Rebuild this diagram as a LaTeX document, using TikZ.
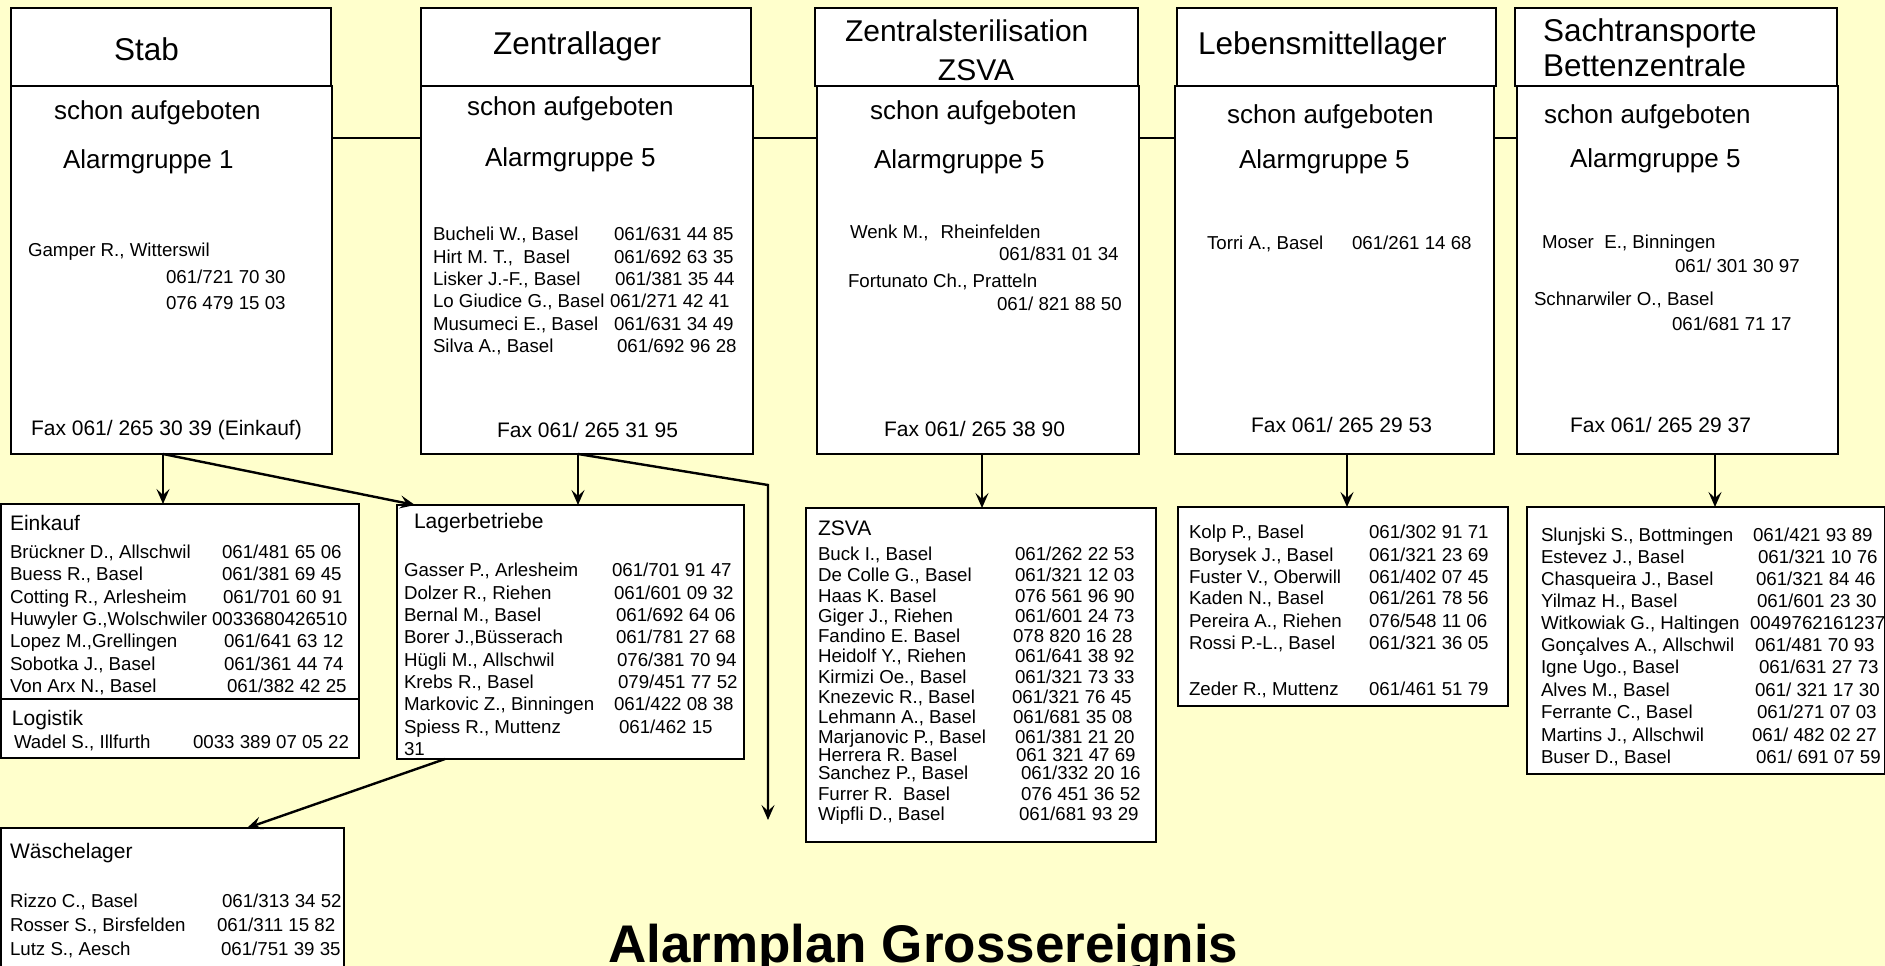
\documentclass[tikz,border=0pt]{standalone}
\usepackage{fontspec}
\setmainfont{Liberation Sans}
\usetikzlibrary{arrows.meta}
\definecolor{bgyellow}{HTML}{FFFFCC}
\newcommand\lrow[6]{\node[sm] (#1n) at (#2,#3) {#4}; \node[sm] (#1p) at (#5,#3) {#6};}
\begin{document}
\begin{tikzpicture}[x=1pt,y=-1pt,
  box/.style={draw=black, fill=white, line width=2.6pt, inner sep=0pt, outer sep=0pt, anchor=north west},
  t/.style={anchor=base west, inner sep=0pt, outer sep=0pt},
  hdr/.style={t, font=\fontsize{31.5}{36}\selectfont},
  big/.style={t, font=\fontsize{26}{30}\selectfont},
  mid/.style={t, font=\fontsize{21}{25}\selectfont},
  sm/.style={t, font=\fontsize{18.7}{22}\selectfont},
  link/.style={line width=1.4pt},
  arr/.style={line width=2.4pt, -{Stealth[length=15pt,width=13pt,inset=6pt]}},
]
\useasboundingbox[fill=bgyellow] (0,0) rectangle (1885,966);

% upper boxes
\node[box, minimum width=321pt, minimum height=368pt] (stabB) at (11,86) {};
\node[box, minimum width=320pt, minimum height=78pt] (stabH) at (11,8) {};
\node[box, minimum width=332pt, minimum height=368pt] (zlB) at (421,86) {};
\node[box, minimum width=330pt, minimum height=78pt] (zlH) at (421,8) {};
\node[box, minimum width=322pt, minimum height=368pt] (zsB) at (817,86) {};
\node[box, minimum width=323pt, minimum height=78pt] (zsH) at (815,8) {};
\node[box, minimum width=319pt, minimum height=368pt] (lmB) at (1175,86) {};
\node[box, minimum width=319pt, minimum height=78pt] (lmH) at (1177,8) {};
\node[box, minimum width=321pt, minimum height=368pt] (stB) at (1517,86) {};
\node[box, minimum width=322pt, minimum height=78pt] (stH) at (1515,8) {};

% lower boxes
\node[box, minimum width=358pt, minimum height=195pt] (einkauf) at (1,504) {};
\node[box, minimum width=358pt, minimum height=59pt] (logistik) at (1,699) {};
\node[box, minimum width=343pt, minimum height=160pt] (waesche) at (1,828) {};
\node[box, minimum width=347pt, minimum height=254pt] (lager) at (397,505) {};
\node[box, minimum width=350pt, minimum height=334pt] (zsva) at (806,508) {};
\node[box, minimum width=330pt, minimum height=199pt] (lml) at (1178,507) {};
\node[box, minimum width=358pt, minimum height=267pt] (stl) at (1527,507) {};

% horizontal links
\draw[link] ([yshift=-52pt]stabB.north east) -- ([yshift=-52pt]zlB.north west);
\draw[link] ([yshift=-52pt]zlB.north east) -- ([yshift=-52pt]zsB.north west);
\draw[link] ([yshift=-52pt]zsB.north east) -- ([yshift=-52pt]lmB.north west);
\draw[link] ([yshift=-52pt]lmB.north east) -- ([yshift=-52pt]stB.north west);

% arrows
\coordinate (s1) at ([xshift=152pt]stabB.south west);
\coordinate (z1) at ([xshift=157pt]zlB.south west);
\coordinate (zbend) at (768,485);
\coordinate (zend) at (768,820);
\coordinate (c1) at ([xshift=165pt]zsB.south west);
\coordinate (l1) at ([xshift=172pt]lmB.south west);
\coordinate (t1) at ([xshift=198pt]stB.south west);
\draw[arr] (s1) -- (s1 |- einkauf.north);
\draw[arr] (s1) -- ([xshift=18pt]lager.north west);
\draw[arr] (z1) -- (z1 |- lager.north);
\draw[arr] (z1) -- (zbend) -- (zend);
\draw[arr] ([xshift=48pt]lager.south west) -- ([xshift=246pt]waesche.north west);
\draw[arr] (c1) -- (c1 |- zsva.north);
\draw[arr] (l1) -- (l1 |- lml.north);
\draw[arr] (t1) -- (t1 |- stl.north);

% headers
\node[hdr] (hStab) at (114,60) {Stab};
\node[hdr] (hZl) at (493,55) {Zentrallager};
\node[t, font=\fontsize{30}{34}\selectfont] (hZs1) at (845,42) {Zentralsterilisation};
\node[t, anchor=base, font=\fontsize{30}{34}\selectfont] (hZs2) at (976,81) {ZSVA};
\node[hdr] (hLm) at (1198,55) {Lebensmittellager};
\node[hdr] (hSt1) at (1543,42) {Sachtransporte};
\node[hdr] (hSt2) at (1543,77) {Bettenzentrale};

% Stab body
\node[big] (sa1) at (54,119) {schon aufgeboten};
\node[big] (ag1) at (63,168) {Alarmgruppe 1};
\node[sm] (gamper) at (28,256) {Gamper R., Witterswil};
\node[sm] (gamperp1) at (166,283) {061/721 70 30};
\node[sm] (gamperp2) at (166,309) {076 479 15 03};
\node[mid] (fax1) at (31,435) {Fax 061/ 265 30 39 (Einkauf)};

% Zentrallager body
\node[big] (sa2) at (467,115) {schon aufgeboten};
\node[big] (ag2) at (485,166) {Alarmgruppe 5};
\lrow{zl1}{433}{240}{Bucheli W., Basel}{614}{061/631 44 85}
\lrow{zl2}{433}{263}{Hirt M. T.,~~Basel}{614}{061/692 63 35}
\lrow{zl3}{433}{285}{Lisker J.-F., Basel}{615}{061/381 35 44}
\lrow{zl4}{433}{307}{Lo Giudice G., Basel}{610}{061/271 42 41}
\lrow{zl5}{433}{330}{Musumeci E., Basel}{614}{061/631 34 49}
\lrow{zl6}{433}{352}{Silva A., Basel}{617}{061/692 96 28}
\node[mid] (fax2) at (497,437) {Fax 061/ 265 31 95};

% ZSVA body
\node[big] (sa3) at (870,119) {schon aufgeboten};
\node[big] (ag3) at (874,168) {Alarmgruppe 5};
\node[sm] (wenk) at (850,238) {Wenk M.,\hspace{12pt}Rheinfelden};
\node[sm] (wenkp) at (999,260) {061/831 01 34};
\node[sm] (fort) at (848,287) {Fortunato Ch., Pratteln};
\node[sm] (fortp) at (997,310) {061/ 821 88 50};
\node[mid] (fax3) at (884,436) {Fax 061/ 265 38 90};

% Lebensmittellager body
\node[big] (sa4) at (1227,123) {schon aufgeboten};
\node[big] (ag4) at (1239,168) {Alarmgruppe 5};
\lrow{torri}{1207}{249}{Torri A., Basel}{1352}{061/261 14 68}
\node[mid] (fax4) at (1251,432) {Fax 061/ 265 29 53};

% Sachtransporte body
\node[big] (sa5) at (1544,123) {schon aufgeboten};
\node[big] (ag5) at (1570,167) {Alarmgruppe 5};
\node[sm] (moser) at (1542,248) {Moser~~E., Binningen};
\node[sm] (moserp) at (1675,272) {061/ 301 30 97};
\node[sm] (schn) at (1534,305) {Schnarwiler O., Basel};
\node[sm] (schnp) at (1672,330) {061/681 71 17};
\node[mid] (fax5) at (1570,432) {Fax 061/ 265 29 37};

% Einkauf / Logistik
\node[mid] (lEink) at (10,530) {Einkauf};
\lrow{ek1}{10}{558}{Brückner D., Allschwil}{222}{061/481 65 06}
\lrow{ek2}{10}{580}{Buess R., Basel}{222}{061/381 69 45}
\lrow{ek3}{10}{603}{Cotting R., Arlesheim}{223}{061/701 60 91}
\lrow{ek4}{10}{625}{Huwyler G.,Wolschwiler}{212}{0033680426510}
\lrow{ek5}{10}{647}{Lopez M.,Grellingen}{224}{061/641 63 12}
\lrow{ek6}{10}{670}{Sobotka J., Basel}{224}{061/361 44 74}
\lrow{ek7}{10}{692}{Von Arx N., Basel}{227}{061/382 42 25}
\node[mid] (lLog) at (12,725) {Logistik};
\lrow{lg1}{14}{748}{Wadel S., Illfurth}{193}{0033 389 07 05 22}

% Waeschelager
\node[mid] (lWae) at (10,858) {Wäschelager};
\lrow{ws1}{10}{907}{Rizzo C., Basel}{222}{061/313 34 52}
\lrow{ws2}{10}{931}{Rosser S., Birsfelden}{217}{061/311 15 82}
\lrow{ws3}{10}{955}{Lutz S., Aesch}{221}{061/751 39 35}

% Lagerbetriebe
\node[mid] (lLag) at (414,528) {Lagerbetriebe};
\lrow{lb1}{404}{576}{Gasser P., Arlesheim}{612}{061/701 91 47}
\lrow{lb2}{404}{599}{Dolzer R., Riehen}{614}{061/601 09 32}
\lrow{lb3}{404}{621}{Bernal M., Basel}{616}{061/692 64 06}
\lrow{lb4}{404}{643}{Borer J.,Büsserach}{616}{061/781 27 68}
\lrow{lb5}{404}{666}{Hügli M., Allschwil}{617}{076/381 70 94}
\lrow{lb6}{404}{688}{Krebs R., Basel}{618}{079/451 77 52}
\lrow{lb7}{404}{710}{Markovic Z., Binningen}{614}{061/422 08 38}
\lrow{lb8}{404}{733}{Spiess R., Muttenz}{619}{061/462 15}
\node[sm] (lb9) at (404,755) {31};

% ZSVA list
\node[mid] (lZsva) at (818,535) {ZSVA};
\lrow{zv1}{818}{560}{Buck I., Basel}{1015}{061/262 22 53}
\lrow{zv2}{818}{581}{De Colle G., Basel}{1015}{061/321 12 03}
\lrow{zv3}{818}{602}{Haas K. Basel}{1015}{076 561 96 90}
\lrow{zv4}{818}{622}{Giger J., Riehen}{1015}{061/601 24 73}
\lrow{zv5}{818}{642}{Fandino E. Basel}{1013}{078 820 16 28}
\lrow{zv6}{818}{662}{Heidolf Y., Riehen}{1015}{061/641 38 92}
\lrow{zv7}{818}{683}{Kirmizi Oe., Basel}{1015}{061/321 73 33}
\lrow{zv8}{818}{703}{Knezevic R., Basel}{1012}{061/321 76 45}
\lrow{zv9}{818}{723}{Lehmann A., Basel}{1013}{061/681 35 08}
\lrow{zv10}{818}{743}{Marjanovic P., Basel}{1015}{061/381 21 20}
\lrow{zv11}{818}{761}{Herrera R. Basel}{1016}{061 321 47 69}
\lrow{zv12}{818}{779}{Sanchez P., Basel}{1021}{061/332 20 16}
\lrow{zv13}{818}{800}{Furrer R.~~Basel}{1021}{076 451 36 52}
\lrow{zv14}{818}{820}{Wipfli D., Basel}{1019}{061/681 93 29}

% Lebensmittellager list
\lrow{lm1}{1189}{538}{Kolp P., Basel}{1369}{061/302 91 71}
\lrow{lm2}{1189}{561}{Borysek J., Basel}{1369}{061/321 23 69}
\lrow{lm3}{1189}{583}{Fuster V., Oberwill}{1369}{061/402 07 45}
\lrow{lm4}{1189}{604}{Kaden N., Basel}{1369}{061/261 78 56}
\lrow{lm5}{1189}{627}{Pereira A., Riehen}{1369}{076/548 11 06}
\lrow{lm6}{1189}{649}{Rossi P.-L., Basel}{1369}{061/321 36 05}
\lrow{lm7}{1189}{695}{Zeder R., Muttenz}{1369}{061/461 51 79}

% Sachtransporte list
\lrow{sl1}{1541}{541}{Slunjski S., Bottmingen}{1753}{061/421 93 89}
\lrow{sl2}{1541}{563}{Estevez J., Basel}{1758}{061/321 10 76}
\lrow{sl3}{1541}{585}{Chasqueira J., Basel}{1756}{061/321 84 46}
\lrow{sl4}{1541}{607}{Yilmaz H., Basel}{1757}{061/601 23 30}
\lrow{sl5}{1541}{629}{Witkowiak G., Haltingen}{1750}{0049762161237}
\lrow{sl6}{1541}{651}{Gonçalves A., Allschwil}{1755}{061/481 70 93}
\lrow{sl7}{1541}{673}{Igne Ugo., Basel}{1759}{061/631 27 73}
\lrow{sl8}{1541}{696}{Alves M., Basel}{1755}{061/ 321 17 30}
\lrow{sl9}{1541}{718}{Ferrante C., Basel}{1757}{061/271 07 03}
\lrow{sl10}{1541}{741}{Martins J., Allschwil}{1752}{061/ 482 02 27}
\lrow{sl11}{1541}{763}{Buser D., Basel}{1756}{061/ 691 07 59}

% title
\node[t, font=\fontsize{53}{62}\selectfont\bfseries] (title) at (608,962) {Alarmplan Grossereignis};
\end{tikzpicture}
\end{document}
